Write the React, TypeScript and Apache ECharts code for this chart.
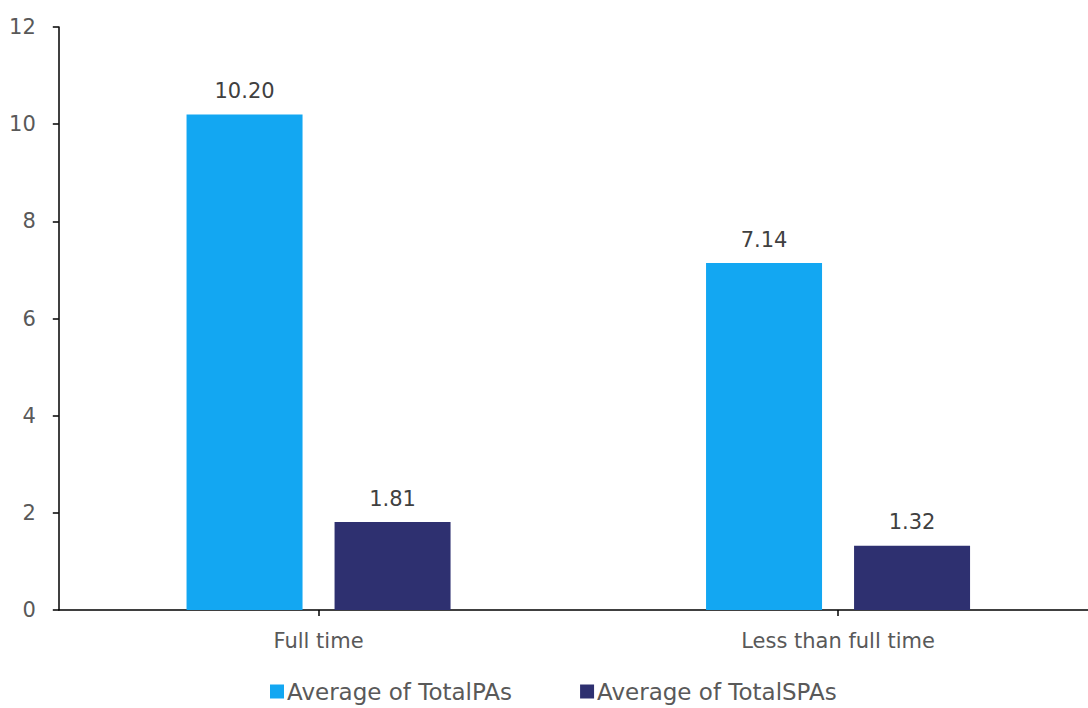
import React, { useEffect, useRef } from "react";
import * as echarts from "echarts";

const categories = ["Full time", "Less than full time"];
const seriesNames = ["Average of TotalPAs", "Average of TotalSPAs"];
const totalPAs = [10.2, 7.14];
const totalSPAs = [1.81, 1.32];
const yTicks = [0, 2, 4, 6, 8, 10, 12];

const FONT = "'DejaVu Sans', sans-serif";
const CHART_W = 1100;

export default function App() {
  const ref = useRef<HTMLDivElement>(null);
  useEffect(() => {
    if (!ref.current) return;
    const chart = echarts.init(ref.current, undefined, { renderer: "svg" });
    const label = {
      show: true,
      position: "top",
      distance: 13,
      color: "#404040",
      fontSize: 21,
      fontFamily: FONT,
      formatter: (p: any) => Number(p.value).toFixed(2),
    };
    chart.setOption({
      animation: false,
      textStyle: { fontFamily: FONT },
      grid: { left: 58.8, right: CHART_W - 58.8 - 1039, top: 27, bottom: 98, containLabel: false },
      legend: {
        bottom: 0,
        left: 265,
        itemWidth: 14,
        itemHeight: 14,
        itemGap: 68,
        icon: "rect",
        textStyle: { color: "#595959", fontSize: 23, fontFamily: FONT, padding: [0, 0, 0, -2] },
        data: seriesNames,
      },
      xAxis: {
        type: "category",
        data: categories,
        axisLine: { lineStyle: { color: "#000", width: 1.5 } },
        axisTick: { show: true, alignWithLabel: true, length: 6, lineStyle: { color: "#000", width: 1.5 } },
        axisLabel: { color: "#595959", fontSize: 21, margin: 20, fontFamily: FONT },
      },
      yAxis: {
        type: "value",
        min: yTicks[0],
        max: yTicks[yTicks.length - 1],
        interval: 2,
        axisLine: { show: true, lineStyle: { color: "#000", width: 1.5 } },
        axisTick: { show: true, length: 6, lineStyle: { color: "#000", width: 1.5 } },
        splitLine: { show: false },
        axisLabel: { color: "#595959", fontSize: 21, margin: 23, fontFamily: FONT },
      },
      series: [
        {
          name: seriesNames[0],
          type: "bar",
          data: totalPAs,
          barWidth: 116,
          barGap: "27.6%",
          itemStyle: { color: "#13A7F2" },
          label,
        },
        {
          name: seriesNames[1],
          type: "bar",
          data: totalSPAs,
          barWidth: 116,
          itemStyle: { color: "#2E3070" },
          label,
        },
      ],
    });
    return () => chart.dispose();
  }, []);
  return (
    <div style={{ width: 1088, height: 708, position: "absolute", left: 0, top: 0, overflow: "hidden" }}>
      <div ref={ref} style={{ width: CHART_W, height: 708 }} />
    </div>
  );
}
